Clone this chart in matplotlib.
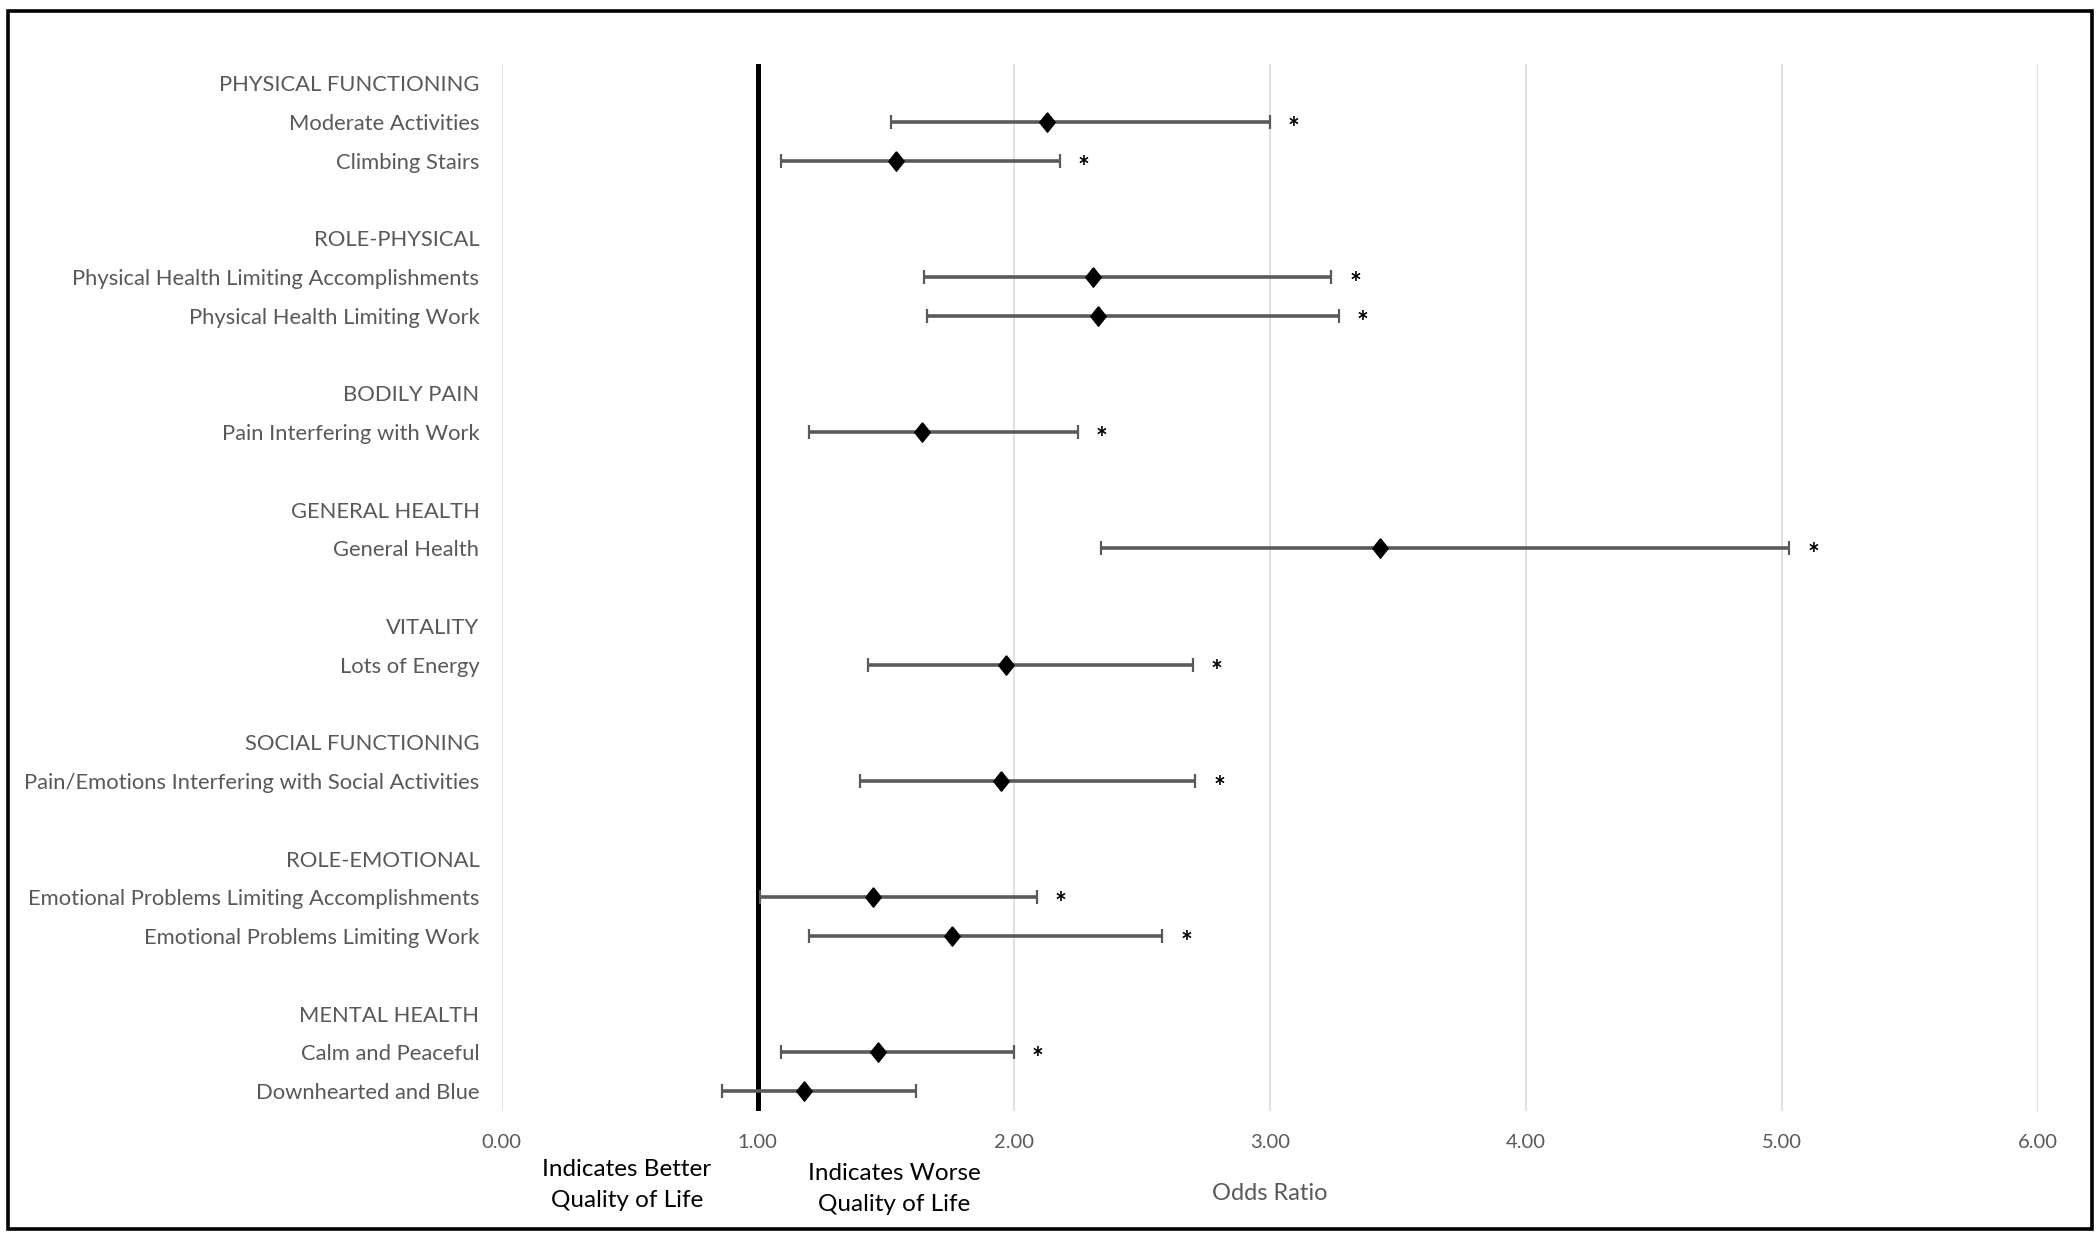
import numpy as np
import matplotlib
matplotlib.use("Agg")
import matplotlib.pyplot as plt
from matplotlib.patches import Rectangle

nan = np.nan
row_labels = [
    "PHYSICAL FUNCTIONING", "Moderate Activities", "Climbing Stairs", "",
    "ROLE-PHYSICAL", "Physical Health Limiting Accomplishments", "Physical Health Limiting Work", "",
    "BODILY PAIN", "Pain Interfering with Work", "",
    "GENERAL HEALTH", "General Health", "",
    "VITALITY", "Lots of Energy", "",
    "SOCIAL FUNCTIONING", "Pain/Emotions Interfering with Social Activities", "",
    "ROLE-EMOTIONAL", "Emotional Problems Limiting Accomplishments", "Emotional Problems Limiting Work", "",
    "MENTAL HEALTH", "Calm and Peaceful", "Downhearted and Blue",
]
odds = [nan, 2.13, 1.54, nan,
        nan, 2.31, 2.33, nan,
        nan, 1.64, nan,
        nan, 3.43, nan,
        nan, 1.97, nan,
        nan, 1.95, nan,
        nan, 1.45, 1.76, nan,
        nan, 1.47, 1.18]
lower = [nan, 1.52, 1.09, nan,
         nan, 1.65, 1.66, nan,
         nan, 1.20, nan,
         nan, 2.34, nan,
         nan, 1.43, nan,
         nan, 1.40, nan,
         nan, 1.01, 1.20, nan,
         nan, 1.09, 0.86]
upper = [nan, 3.00, 2.18, nan,
         nan, 3.24, 3.27, nan,
         nan, 2.25, nan,
         nan, 5.03, nan,
         nan, 2.70, nan,
         nan, 2.71, nan,
         nan, 2.09, 2.58, nan,
         nan, 2.00, 1.62]
significant = [False, True, True, False,
               False, True, True, False,
               False, True, False,
               False, True, False,
               False, True, False,
               False, True, False,
               False, True, True, False,
               False, True, False]
x_ticks = [0, 1, 2, 3, 4, 5, 6]
x_ticklabels = ["0.00", "1.00", "2.00", "3.00", "4.00", "5.00", "6.00"]

FONT = ["Lato", "DejaVu Sans"]
GRAY = "#595959"
plt.rcParams["font.family"] = FONT

fig = plt.figure(figsize=(21, 12.4), dpi=100)
ax = fig.add_axes([0.2389, 0.1043, 0.7314, 0.8444])

y = np.arange(len(row_labels))
o = np.array(odds)
lo = np.array(lower)
hi = np.array(upper)
mask = ~np.isnan(o)

for xv in x_ticks:
    ax.axvline(xv, color="#d9d9d9", lw=1.1, zorder=0)
ax.axvline(1.0, color="black", lw=3.6, zorder=1)

ax.errorbar(o[mask], y[mask], xerr=[o[mask] - lo[mask], hi[mask] - o[mask]],
            fmt="none", ecolor="#5a5a5a", elinewidth=2.6, capsize=5, capthick=1.6, zorder=2)
diamond = [(0, 1), (0.8, 0), (0, -1), (-0.8, 0), (0, 1)]
ax.plot(o[mask], y[mask], linestyle="none", marker=diamond, markersize=14,
        color="black", zorder=3)

for yi, h, s in zip(y, hi, significant):
    if s:
        ax.annotate("*", xy=(h, yi), xytext=(24, -7), textcoords="offset pixels",
                    ha="center", va="center", fontsize=20, fontweight="bold", color="black")

ax.set_xlim(0, 6)
ax.set_ylim(len(row_labels) - 0.5, -0.5)
ax.set_yticks(y)
ax.set_yticklabels(row_labels, fontsize=15.8, color=GRAY)
ax.set_xticks(x_ticks)
ax.set_xticklabels(x_ticklabels, fontsize=14.5, color=GRAY)
ax.tick_params(axis="y", length=0, pad=16)
ax.tick_params(axis="x", length=0, pad=17)
for sp in ax.spines.values():
    sp.set_visible(False)

fig.text(1269.5 / 2100, 1 - 1194 / 1240, "Odds Ratio", ha="center", va="center",
         fontsize=17, color=GRAY)
fig.text(627 / 2100, 1 - 1185 / 1240, "Indicates Better\nQuality of Life", ha="center",
         va="center", fontsize=17.5, color="black", linespacing=1.55)
fig.text(894 / 2100, 1 - 1189 / 1240, "Indicates Worse\nQuality of Life", ha="center",
         va="center", fontsize=17.5, color="black", linespacing=1.55)

fig.add_artist(Rectangle((8 / 2100, 11 / 1240), (2092 - 8) / 2100, (1229 - 11) / 1240,
                         transform=fig.transFigure, fill=False, edgecolor="black", lw=2.6))

fig.savefig("out.png", dpi=100, facecolor="white")
